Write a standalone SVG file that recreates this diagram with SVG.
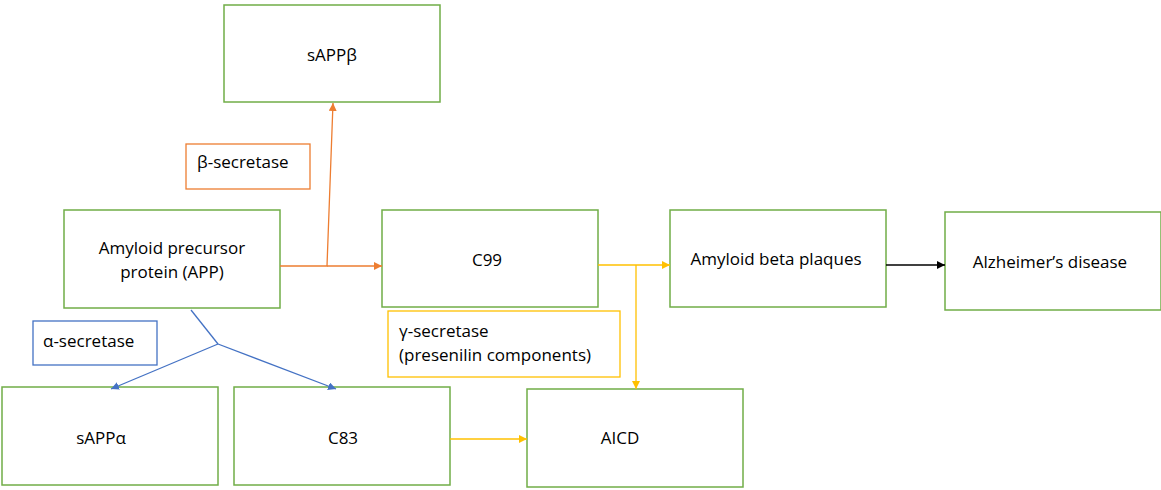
<svg xmlns="http://www.w3.org/2000/svg" width="1161" height="490" viewBox="0 0 1161 490">
<style>
.box{fill:#fff;stroke:#70AD47;stroke-width:1.5}
.lbl{fill:#fff;stroke-width:1.3}
text{font-family:"Open Sans","Liberation Sans",sans-serif;font-size:17px;fill:#000}
.c{text-anchor:middle}
.or{stroke:#ED7D31}
.bl{stroke:#4472C4}
.ye{stroke:#FFC000}
.con{fill:none;stroke-width:1.3}
</style>
<defs>
<marker id="mo" viewBox="0 0 10 10" refX="10" refY="5" markerWidth="8" markerHeight="8" markerUnits="userSpaceOnUse" orient="auto"><path d="M0,0L10,5L0,10z" fill="#ED7D31"/></marker>
<marker id="mb" viewBox="0 0 10 10" refX="10" refY="5" markerWidth="8" markerHeight="8" markerUnits="userSpaceOnUse" orient="auto"><path d="M0,0L10,5L0,10z" fill="#4472C4"/></marker>
<marker id="my" viewBox="0 0 10 10" refX="10" refY="5" markerWidth="8" markerHeight="8" markerUnits="userSpaceOnUse" orient="auto"><path d="M0,0L10,5L0,10z" fill="#FFC000"/></marker>
<marker id="mk" viewBox="0 0 10 10" refX="10" refY="5" markerWidth="8" markerHeight="8" markerUnits="userSpaceOnUse" orient="auto"><path d="M0,0L10,5L0,10z" fill="#000"/></marker>
</defs>
<rect width="1161" height="490" fill="#fff"/>
<g id="sAPPb"><rect class="box" x="224" y="5" width="216" height="97"/><text class="c" x="332" y="61">sAPPβ</text></g>
<g id="beta-secretase"><rect class="lbl or" x="186" y="144" width="124" height="45"/><text x="197" y="168">β-secretase</text></g>
<g id="APP"><rect class="box" x="64" y="210" width="216" height="98"/><text class="c" x="172" y="254">Amyloid precursor</text><text class="c" x="172" y="278">protein (APP)</text></g>
<g id="C99"><rect class="box" x="382" y="210" width="216" height="97"/><text class="c" x="487" y="266">C99</text></g>
<g id="plaques"><rect class="box" x="670" y="210" width="216" height="97"/><text class="c" x="776" y="265">Amyloid beta plaques</text></g>
<g id="alzheimers"><rect class="box" x="945" y="212" width="216" height="98"/><text class="c" x="1050" y="268">Alzheimer’s disease</text></g>
<g id="alpha-secretase"><rect class="lbl bl" x="33" y="321" width="124" height="44"/><text x="43" y="347">α-secretase</text></g>
<g id="gamma-secretase"><rect class="lbl ye" x="388" y="311" width="232" height="66"/><text x="399" y="337">γ-secretase</text><text x="399" y="361">(presenilin components)</text></g>
<g id="sAPPa"><rect class="box" x="2" y="387" width="216" height="98"/><text class="c" x="101" y="444">sAPPα</text></g>
<g id="C83"><rect class="box" x="234" y="387" width="216" height="98"/><text class="c" x="343" y="444">C83</text></g>
<g id="AICD"><rect class="box" x="527" y="389" width="216" height="98"/><text class="c" x="620" y="444">AICD</text></g>
<g id="connectors">
<path class="con or" d="M280,266H327L333,103" marker-end="url(#mo)"/>
<path class="con or" d="M327,266H382" marker-end="url(#mo)"/>
<path class="con bl" d="M191,310L218,344"/>
<path class="con bl" d="M218,344L111,389" marker-end="url(#mb)"/>
<path class="con bl" d="M218,344L336,389" marker-end="url(#mb)"/>
<path class="con ye" d="M598,265H670" marker-end="url(#my)"/>
<path class="con ye" d="M636,265V389" marker-end="url(#my)"/>
<path class="con ye" d="M450,439H527" marker-end="url(#my)"/>
<path class="con" stroke="#000" d="M886,265H945" marker-end="url(#mk)"/>
</g>
</svg>
